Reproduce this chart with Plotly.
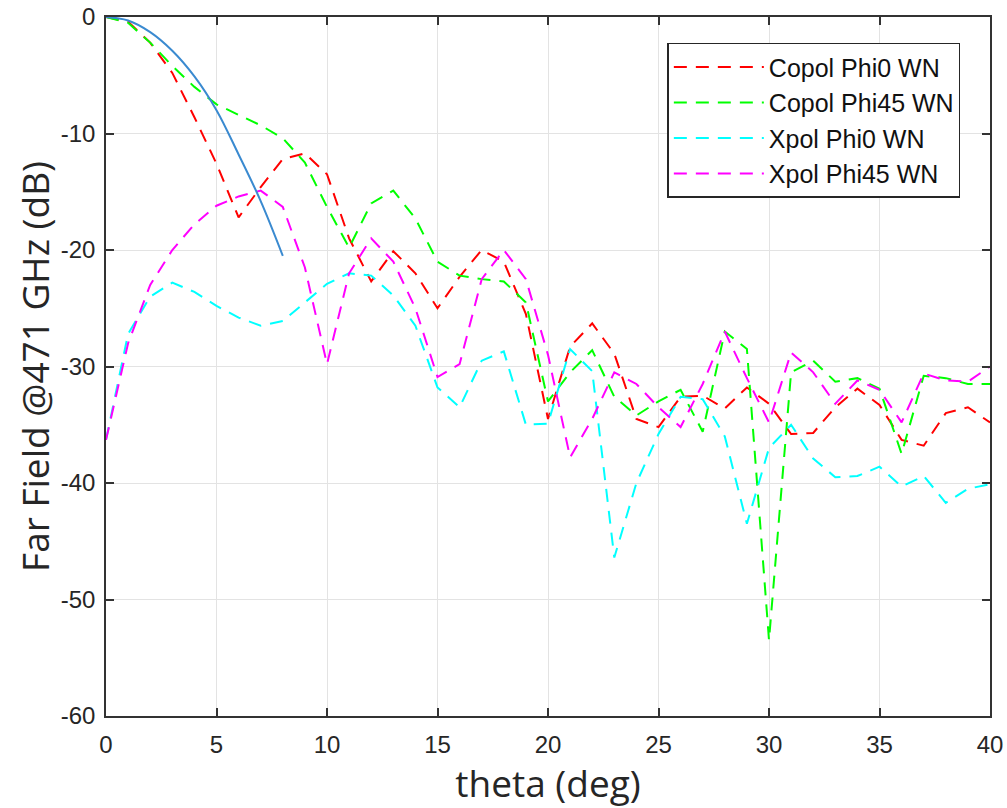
import plotly.graph_objects as go

theta = list(range(0, 41))

copol_phi0 = [0, -0.4, -2.2, -4.8, -8.6, -12.6, -17.2, -14.6, -12.2, -11.7,
              -13.5, -19.0, -22.7, -20.1, -22.0, -25.0, -22.3, -20.0, -21.0, -25.5,
              -34.5, -28.3, -26.3, -28.9, -34.5, -35.2, -32.6, -32.5, -33.6, -31.8,
              -33.2, -35.8, -35.7, -33.5, -31.9, -33.3, -36.3, -36.8, -34.0, -33.5,
              -34.8]

copol_phi45 = [0, -0.5, -2.2, -4.2, -6.0, -7.5, -8.4, -9.3, -10.4, -12.5,
               -16.3, -19.8, -16.0, -14.9, -17.3, -21.0, -22.2, -22.5, -22.7, -24.5,
               -33.0, -30.5, -28.6, -32.6, -34.2, -33.0, -32.0, -35.6, -27.0, -28.5,
               -53.5, -30.5, -29.5, -31.3, -31.0, -31.9, -37.5, -30.8, -31.0, -31.5,
               -31.5]

xpol_phi0 = [-36.3, -27.2, -24.0, -22.8, -23.6, -24.8, -25.8, -26.5, -26.1, -24.5,
             -22.9, -22.0, -22.2, -23.9, -26.5, -31.8, -33.5, -29.5, -28.7, -35.0,
             -34.9, -28.5, -30.4, -46.4, -40.0, -35.8, -32.6, -32.8, -36.0, -43.5,
             -37.0, -35.0, -37.9, -39.5, -39.4, -38.6, -40.3, -39.4, -41.7, -40.5,
             -40.1]

xpol_phi45 = [-36.3, -28.0, -23.0, -20.0, -17.8, -16.2, -15.4, -14.9, -16.3, -21.5,
              -29.8, -22.0, -19.0, -21.0, -25.0, -30.9, -29.8, -22.5, -20.0, -22.5,
              -29.0, -37.8, -34.5, -30.5, -31.5, -33.5, -35.2, -31.5, -27.0, -31.0,
              -34.8, -28.8, -30.5, -33.2, -31.2, -32.0, -34.8, -30.6, -31.2, -31.3,
              -30.0]

fit_theta = [0, 1, 2, 3, 4, 5, 6, 7, 8]
fit_vals = [0, -0.3, -1.3, -2.9, -5.1, -8.0, -11.8, -15.8, -20.5]

x_ticks = [0, 5, 10, 15, 20, 25, 30, 35, 40]
y_ticks = [0, -10, -20, -30, -40, -50, -60]

series = [
    ("Copol Phi0 WN", copol_phi0, "#FF0000"),
    ("Copol Phi45 WN", copol_phi45, "#00FF00"),
    ("Xpol Phi0 WN", xpol_phi0, "#00FFFF"),
    ("Xpol Phi45 WN", xpol_phi45, "#FF00FF"),
]

fig = go.Figure()
for name, vals, col in series:
    fig.add_trace(go.Scatter(x=theta, y=vals, mode="lines", name=name,
                             line=dict(color=col, width=2, dash="13px,9px")))

fig.add_trace(go.Scatter(x=fit_theta, y=fit_vals, mode="lines", showlegend=False,
                         line=dict(color="#3A8AD0", width=2, shape="spline")))

axis_common = dict(
    showline=True, linecolor="#333333", linewidth=1.5, mirror="ticks",
    ticks="inside", ticklen=8, tickwidth=1.5, tickcolor="#333333",
    showgrid=True, gridcolor="#E3E3E3", gridwidth=1, zeroline=False,
    automargin=False,
    tickfont=dict(family="Liberation Sans", size=24, color="#262626"),
)

fig.update_xaxes(range=[0, 40], tickvals=x_ticks, ticktext=[str(v) for v in x_ticks],
                 ticklabelstandoff=6,
                 title=dict(text="theta (deg)", standoff=11,
                            font=dict(family="Open Sans", size=37, color="#262626")),
                 **axis_common)
fig.update_yaxes(range=[-60, 0], tickvals=y_ticks, ticktext=[str(v) for v in y_ticks],
                 ticklabelstandoff=4,
                 title=dict(text="Far Field @471 GHz (dB)", standoff=0,
                            font=dict(family="Open Sans", size=37, color="#262626")),
                 **axis_common)

fig.update_layout(
    width=1007, height=808,
    margin=dict(l=106, r=17, t=17, b=92),
    plot_bgcolor="white", paper_bgcolor="white",
    legend=dict(x=0.635, y=0.963, xanchor="left", yanchor="top",
                bgcolor="white", bordercolor="#262626", borderwidth=1.5,
                font=dict(family="Liberation Sans", size=25, color="#111111"),
                itemwidth=90, tracegroupgap=0),
)

fig.write_html("out.html", config={"displayModeBar": False},
               post_script="document.body.style.margin='0';")
